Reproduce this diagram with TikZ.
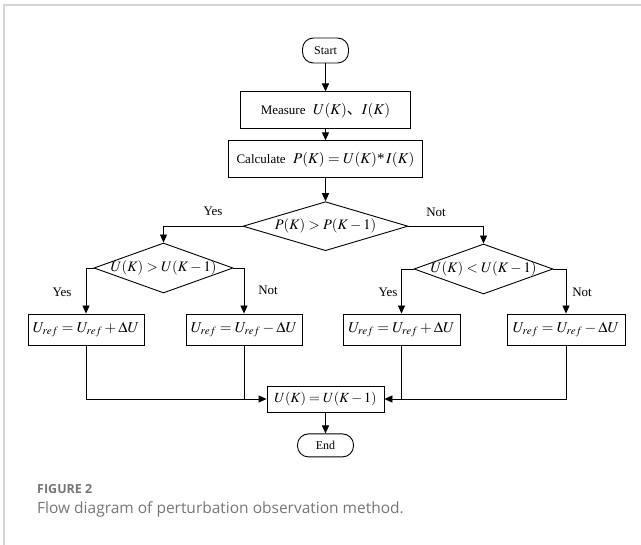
\documentclass[tikz,border=0pt]{standalone}
\usepackage{mathptmx}
\usepackage{fontspec}
\setmainfont{Liberation Serif}
\newfontfamily\cjk{Noto Sans CJK SC}
\newfontfamily\capfont{Open Sans}
\usetikzlibrary{arrows.meta,positioning,shapes.geometric}
\definecolor{framegray}{HTML}{D4D4D4}
\definecolor{capgray}{HTML}{767676}
\newcommand{\smtext}[1]{{\fontsize{13}{15}\selectfont #1}}
\tikzset{
    stepbox/.style={rectangle, draw=black, line width=0.9pt, inner sep=0pt, text centered,
      font=\fontsize{15}{17}\selectfont},
    termbox/.style={rectangle, rounded corners=11pt, draw=black, line width=0.9pt, inner sep=0pt,
      font=\fontsize{12}{14}\selectfont},
    decbox/.style={diamond, draw=black, line width=0.9pt, inner sep=0pt,
      minimum width=139pt, minimum height=50pt, font=\fontsize{14.5}{16}\selectfont},
    pil/.style={-{Triangle[length=8pt,width=7pt]}, line width=0.9pt},
    lbl/.style={font=\fontsize{13}{15}\selectfont}
}

\begin{document}
\begin{tikzpicture}[x=1pt, y=-1pt]
    \useasboundingbox (0,0) rectangle (641,545);
    \draw[framegray, line width=1.5pt] (4,545) -- (4,5) -- (641,5);

    \node[termbox, minimum width=46pt, minimum height=25pt] (start) at (325.5,50.5) {Start};
    \node[stepbox, minimum width=170pt, minimum height=37pt, below=28pt of start] (measure)
      {\smtext{Measure}\ \ $U(K)${\cjk 、}$I(K)$};
    \node[stepbox, minimum width=194pt, minimum height=37pt, below=11pt of measure] (calc)
      {\smtext{Calculate}\ \ $P(K)=U(K)\mbox{*}\,I(K)$};
    \node[decbox, minimum width=165pt, minimum height=49pt, below=23pt of calc] (dec1)
      {\makebox[0pt]{$P(K)>P(K-1)$}};

    \node[decbox] (dec2) at (163.5,268) {\makebox[0pt]{$U(K)>U(K-1)$}};
    \node[decbox] (dec3) at (483.5,269) {\makebox[0pt]{$U(K)<U(K-1)$}};

    % four update boxes
    \node[stepbox, minimum width=116pt, minimum height=31pt] (ll) at (86,329.5)
      {$U_{ref}=U_{ref}+\Delta U$};
    \node[stepbox, minimum width=116pt, minimum height=31pt] (lr) at (244,329.5)
      {$U_{ref}=U_{ref}-\Delta U$};
    \node[stepbox, minimum width=117pt, minimum height=31pt] (rl) at (401.5,329.5)
      {$U_{ref}=U_{ref}+\Delta U$};
    \node[stepbox, minimum width=118pt, minimum height=31pt] (rr) at (566,329.5)
      {$U_{ref}=U_{ref}-\Delta U$};

    \node[stepbox, minimum width=117pt, minimum height=26pt, font=\fontsize{14}{16}\selectfont]
      (merge) at (325.5,399) {$U(K)=U(K-1)$};
    \node[termbox, minimum width=56pt, minimum height=23pt, below=21pt of merge] (finish) {End};

    % branch labels
    \node[lbl] (yes1) at (213,211) {Yes};
    \node[lbl] (not1) at (436,212) {Not};
    \node[lbl] (yes2) at (62,292) {Yes};
    \node[lbl] (not2) at (268,290) {Not};
    \node[lbl] (yes3) at (388,292) {Yes};
    \node[lbl] (not3) at (582,292) {Not};

    \draw[pil] (start) -- (measure);
    \draw[pil] (measure) -- (calc);
    \draw[pil] (calc) -- (dec1);
    \draw[pil] (dec1.west) -| (dec2.north);
    \draw[pil] (dec1.east) -| (dec3.north);
    \draw[pil] (dec2.west) -| (ll.north);
    \draw[pil] (dec2.east) -| (lr.north);
    \draw[pil] (dec3.west) -| (rl.north);
    \draw[pil] (dec3.east) -| (rr.north);
    \draw[pil] (ll.south) |- (merge.west);
    \draw[line width=0.9pt] (lr.south) -- (lr.south |- merge.west);
    \draw[pil] (rr.south) |- (merge.east);
    \draw[line width=0.9pt] (rl.south) -- (rl.south |- merge.east);
    \draw[pil] (merge) -- (finish);

    % caption
    \node[anchor=base west, inner sep=0pt, text=capgray, font=\capfont\bfseries\fontsize{12.5}{14}\selectfont]
      (figno) at (37,494) {FIGURE 2};
    \node[anchor=base west, inner sep=0pt, text=capgray, font=\capfont\fontsize{15.5}{17}\selectfont]
      (figtext) at (37,514) {Flow diagram of perturbation observation method.};
\end{tikzpicture}
\end{document}
